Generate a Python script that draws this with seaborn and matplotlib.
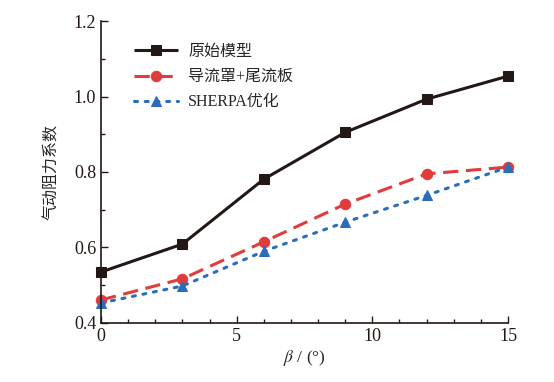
import matplotlib
matplotlib.use("Agg")
import matplotlib.pyplot as plt
import seaborn as sns
import pandas as pd
from matplotlib.ticker import MultipleLocator

beta = [0, 3, 6, 9, 12, 15]
original = [0.535, 0.609, 0.781, 0.905, 0.993, 1.054]
fairing = [0.461, 0.517, 0.615, 0.715, 0.795, 0.813]
sherpa = [0.453, 0.498, 0.590, 0.667, 0.738, 0.813]
labels = ["原始模型", "导流罩+尾流板", "SHERPA优化"]

sns.set_style("ticks")
plt.rcParams['font.family'] = ['Liberation Serif', 'Noto Sans CJK SC']
plt.rcParams['mathtext.fontset'] = 'stix'

df = pd.DataFrame({
    "beta": beta * 3,
    "cd": original + fairing + sherpa,
    "series": [labels[0]] * 6 + [labels[1]] * 6 + [labels[2]] * 6,
})

fig = plt.figure(figsize=(5.54, 3.82), dpi=100)
ax = fig.add_axes([0.1823, 0.1545, 0.7347, 0.7905])

colors = ["#231815", "#e03c3c", "#2a6ebb"]
markers = ["s", "o", "^"]
styles = [(0, ()), (0, (5, 2.5)), (0, (1, 2.5))]
widths = [2.2, 2.2, 2.2]
for lab, c, m, ls, lw in zip(labels, colors, markers, styles, widths):
    sub = df[df.series == lab]
    sns.lineplot(data=sub, x="beta", y="cd", ax=ax, color=c, marker=m,
                 markersize=7.5, markeredgecolor=c, linestyle=ls, linewidth=lw,
                 label=lab, clip_on=False)
ax.lines[-1].set_dash_capstyle('round')

ax.set_xlim(0, 15)
ax.set_ylim(0.4, 1.2)
ax.xaxis.set_major_locator(MultipleLocator(5))
ax.xaxis.set_minor_locator(MultipleLocator(1))
ax.yaxis.set_major_locator(MultipleLocator(0.2))
ax.yaxis.set_minor_locator(MultipleLocator(0.1))
ax.yaxis.set_major_formatter(matplotlib.ticker.FormatStrFormatter('%.1f'))
ax.tick_params(which='major', direction='in', length=5, width=1, labelsize=13, colors='#231815')
ax.tick_params(which='minor', direction='in', length=3, width=1, colors='#231815')
for s in ['top', 'right']:
    ax.spines[s].set_visible(False)
for s in ['left', 'bottom']:
    ax.spines[s].set_linewidth(1.2)
    ax.spines[s].set_color('#231815')

ax.set_xlabel(r"$\beta$ / (°)", fontsize=12.5, labelpad=2)
ax.set_ylabel("气动阻力系数", fontsize=11.5, family=['Noto Sans CJK SC'], labelpad=10)

leg = ax.legend(loc='upper left', bbox_to_anchor=(0.047, 0.972), frameon=False,
                handlelength=2.75, handletextpad=0.6, labelspacing=0.58,
                prop={'family': ['Liberation Serif', 'Noto Sans CJK SC'], 'size': 11.5})

fig.savefig("out.png", dpi=100)
